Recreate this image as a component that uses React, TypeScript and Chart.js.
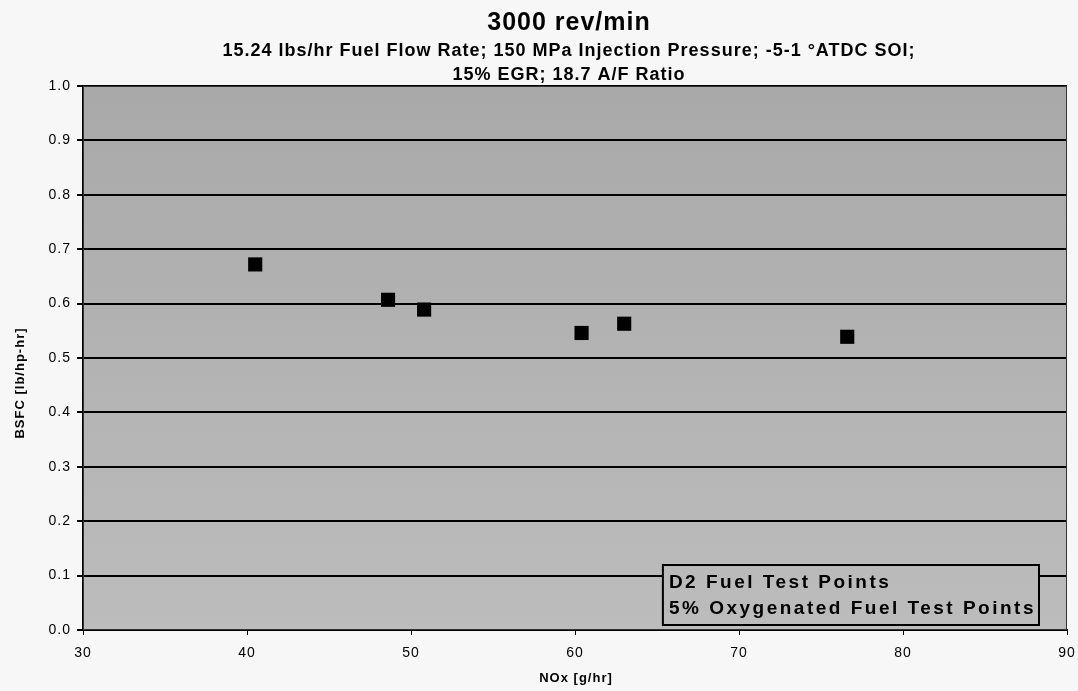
import React, { useEffect, useRef } from "react";
import { Chart, registerables } from "chart.js";

Chart.register(...registerables);

const titleText = "3000 rev/min";
const subtitleLines = [
  "15.24 lbs/hr Fuel Flow Rate; 150 MPa Injection Pressure; -5-1 °ATDC SOI;",
  "15% EGR; 18.7 A/F Ratio",
];
const xAxisTitle = "NOx [g/hr]";
const yAxisTitle = "BSFC [lb/hp-hr]";
const seriesNames = ["D2 Fuel Test Points", "5% Oxygenated Fuel Test Points"];

const d2NOx = [40.5, 48.6, 50.8, 60.4, 63.0, 76.6];
const d2BSFC = [0.672, 0.607, 0.589, 0.546, 0.563, 0.539];
const oxyNOx: number[] = [];
const oxyBSFC: number[] = [];

const FONT = "'Liberation Sans', Arial, sans-serif";

function plotFill(ctx: CanvasRenderingContext2D, top: number, bottom: number) {
  const g = ctx.createLinearGradient(0, top, 0, bottom);
  g.addColorStop(0, "#a9a9a9");
  g.addColorStop(0.5, "#b3b3b3");
  g.addColorStop(1, "#bcbcbc");
  return g;
}

const decorPlugin = {
  id: "decor",
  beforeLayout(chart: any) {
    chart.ctx.letterSpacing = "1px";
  },
  beforeDraw(chart: any) {
    const { ctx, chartArea: a } = chart;
    ctx.letterSpacing = "1px";
    ctx.save();
    ctx.fillStyle = plotFill(ctx, a.top, a.bottom);
    ctx.fillRect(a.left, a.top, a.right - a.left, a.bottom - a.top);
    ctx.restore();
  },
  afterDatasetsDraw(chart: any) {
    const { ctx, chartArea: a } = chart;
    ctx.save();
    ctx.strokeStyle = "#333";
    ctx.lineWidth = 1;
    ctx.strokeRect(a.left + 0.5, a.top + 0.5, a.right - a.left - 1, a.bottom - a.top - 1);

    const cx = 569;
    ctx.fillStyle = "#000";
    ctx.textAlign = "center";
    ctx.textBaseline = "alphabetic";
    ctx.letterSpacing = "1px";
    ctx.font = `bold 25px ${FONT}`;
    ctx.fillText(titleText, cx, 30);
    ctx.font = `bold 18px ${FONT}`;
    ctx.fillText(subtitleLines[0], cx, 56);
    ctx.fillText(subtitleLines[1], cx, 80);

    ctx.font = `bold 13px ${FONT}`;
    ctx.fillText(xAxisTitle, 576, 682);
    ctx.save();
    ctx.translate(24, 383);
    ctx.rotate(-Math.PI / 2);
    ctx.fillText(yAxisTitle, 0, 0);
    ctx.restore();

    // legend
    const names = chart.data.datasets.map((d: any) => d.label);
    ctx.font = `bold 19px ${FONT}`;
    ctx.letterSpacing = "2.5px";
    const w = Math.max(...names.map((n: string) => ctx.measureText(n).width));
    const lRight = 1039, lTop = 565, lBottom = 625;
    const lLeft = lRight - w - 9;
    ctx.fillStyle = plotFill(ctx, a.top, a.bottom);
    ctx.fillRect(lLeft, lTop, lRight - lLeft, lBottom - lTop);
    ctx.strokeStyle = "#000";
    ctx.lineWidth = 2;
    ctx.strokeRect(lLeft, lTop, lRight - lLeft, lBottom - lTop);
    ctx.fillStyle = "#000";
    ctx.textAlign = "left";
    ctx.fillText(names[0], lLeft + 6, 588);
    ctx.fillText(names[1], lLeft + 6, 614);
    ctx.restore();
  },
};

export default function App() {
  const ref = useRef<HTMLCanvasElement>(null);
  useEffect(() => {
    document.body.style.margin = "0";
    document.body.style.background = "#f7f7f7";
    const chart = new Chart(ref.current!, {
      type: "scatter",
      data: {
        datasets: [
          {
            label: seriesNames[0],
            data: d2NOx.map((x, i) => ({ x, y: d2BSFC[i] })),
            pointStyle: "rect",
            pointRadius: 10,
            backgroundColor: "#000",
            borderColor: "#000",
            borderWidth: 0,
          },
          {
            label: seriesNames[1],
            data: oxyNOx.map((x, i) => ({ x, y: oxyBSFC[i] })),
            pointStyle: "rect",
            pointRadius: 10,
            backgroundColor: "#fff",
            borderColor: "#000",
          },
        ],
      },
      options: {
        animation: false,
        responsive: false,
        layout: { padding: { left: 0, right: 11, top: 86, bottom: 0 } },
        plugins: {
          legend: { display: false },
          title: { display: false },
          tooltip: { enabled: false },
        },
        scales: {
          x: {
            type: "linear",
            min: 30,
            max: 90,
            ticks: { stepSize: 10, color: "#000", font: { family: FONT, size: 14 }, padding: 10 },
            grid: { drawOnChartArea: false, drawTicks: true, tickLength: 5, color: "#000" },
            border: { color: "#000", width: 2 },
            afterFit: (s: any) => {
              s.height = 61;
              s.paddingLeft = 0;
              s.paddingRight = 0;
            },
          },
          y: {
            type: "linear",
            min: 0,
            max: 1,
            ticks: {
              stepSize: 0.1,
              color: "#000",
              font: { family: FONT, size: 14 },
              padding: 6,
              callback: (v: any) => Number(v).toFixed(1),
            },
            grid: { color: "#000", lineWidth: 2, drawTicks: true, tickLength: 6 },
            border: { color: "#000", width: 2 },
            afterFit: (s: any) => {
              s.width = 83;
              s.paddingTop = 0;
              s.paddingBottom = 0;
            },
          },
        },
      },
      plugins: [decorPlugin],
    });
    return () => chart.destroy();
  }, []);
  return <canvas ref={ref} width={1078} height={691} style={{ display: "block" }} />;
}
